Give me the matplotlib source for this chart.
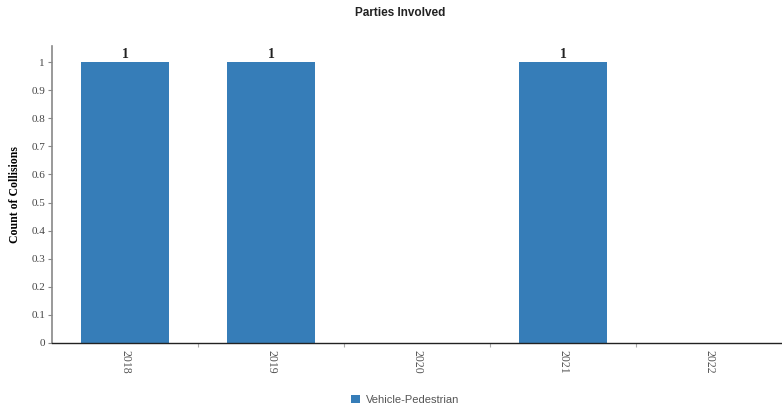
import matplotlib
matplotlib.use("Agg")
import matplotlib.pyplot as plt
import numpy as np

# data
years = ["2018", "2019", "2020", "2021", "2022"]
collisions = [1, 1, 0, 1, 0]
series_name = "Vehicle-Pedestrian"
bar_color = "#367db8"

fig = plt.figure(figsize=(7.82, 4.11), dpi=100)
ax = fig.add_axes([0.0665, 0.1655, 0.9335, 0.7225])

x = np.arange(len(years))
bars = ax.bar(x, collisions, width=0.6, color=bar_color, label=series_name, zorder=2)

# value labels above bars
for xi, v in zip(x, collisions):
    if v > 0:
        ax.text(xi, v + 0.005, str(v), ha="center", va="bottom",
                fontsize=10, fontweight="bold", family="Liberation Serif", color="#222222")

ax.set_xlim(-0.5, len(years) - 0.5)
ax.set_ylim(0, 1.057)
ax.set_yticks(np.arange(0, 1.01, 0.1))
ax.set_yticklabels(["0"] + [f"{v:.1f}" for v in np.arange(0.1, 0.95, 0.1)] + ["1"])
ax.set_xticks(x)
ax.set_xticklabels(years, rotation=-90, family="Liberation Serif", fontsize=8.5, color="#555555")
ax.set_xticks(np.arange(0.5, len(years) - 0.5, 1), minor=True)
ax.tick_params(axis="x", which="major", length=0, pad=5)
ax.tick_params(axis="x", which="minor", length=3, color="#aaaaaa", width=0.8)
ax.tick_params(axis="y", length=3, color="#888888", labelsize=8, labelcolor="#444444", pad=2)
for lbl in ax.get_yticklabels():
    lbl.set_family("Liberation Serif")

for s in ["top", "right"]:
    ax.spines[s].set_visible(False)
ax.spines["left"].set_color("#888888")
ax.spines["left"].set_linewidth(1.2)
ax.spines["bottom"].set_color("#222222")
ax.spines["bottom"].set_linewidth(1.0)

ax.set_ylabel("Count of Collisions", family="Liberation Serif", fontweight="bold",
              fontsize=8.5, labelpad=7)

fig.text(0.512, 0.968, "Parties Involved", ha="center", va="center",
         fontsize=8.5, fontweight="bold", family="Liberation Sans", color="#222222")

leg = fig.legend(handles=[bars], labels=[series_name], loc="center",
                 bbox_to_anchor=(0.518, 0.027), frameon=False,
                 prop={"family": "Liberation Sans", "size": 8},
                 handlelength=0.8, handleheight=0.8, handletextpad=0.5)
for t in leg.get_texts():
    t.set_color("#555555")

fig.savefig("out.png", dpi=100)
